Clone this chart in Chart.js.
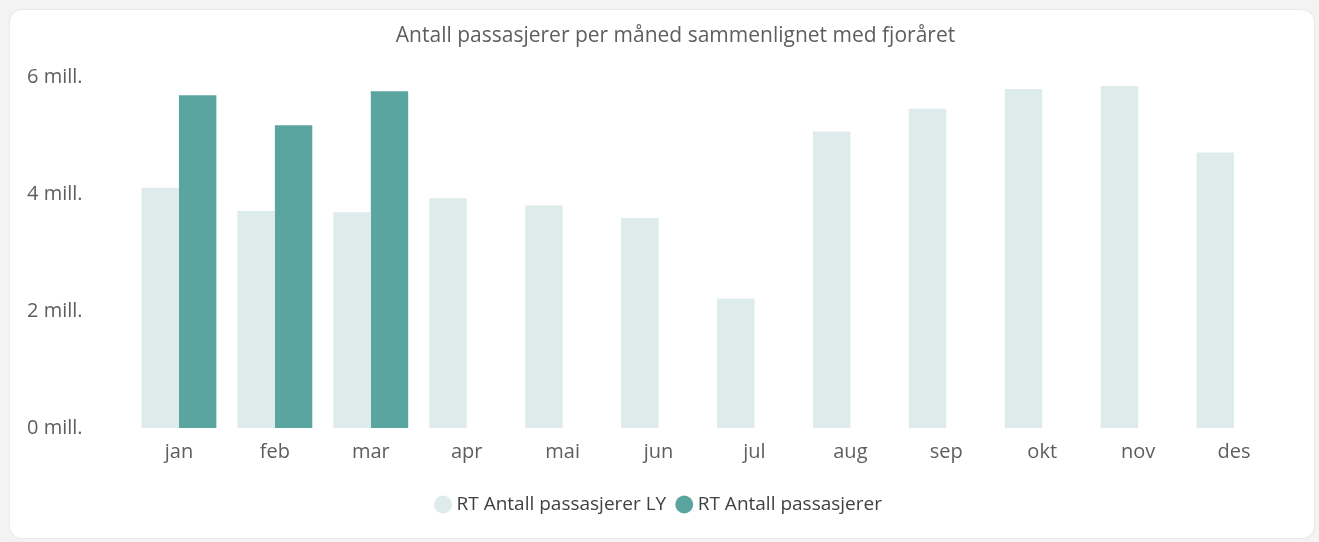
<!DOCTYPE html>
<html>
<head>
<meta charset="utf-8">
<script src="https://cdn.jsdelivr.net/npm/chart.js@4"></script>
<style>
html,body{margin:0;padding:0;background:#f3f3f3;width:1319px;height:542px;overflow:hidden;}
#card{position:absolute;left:10px;top:10px;width:1304px;height:528px;background:#fff;border-radius:12px;box-shadow:0 0 2px rgba(0,0,0,0.12);}
#c{position:absolute;left:0;top:0;}
</style>
</head>
<body>
<div id="card"><canvas id="c" width="1304" height="528"></canvas></div>
<script>
const months = ['jan','feb','mar','apr','mai','jun','jul','aug','sep','okt','nov','des'];
const passengersLY = [4110000,3710000,3690000,3930000,3810000,3590000,2210000,5070000,5460000,5800000,5850000,4710000];
const passengers = [5690000,5180000,5760000,null,null,null,null,null,null,null,null,null];
const yTicks = [0,2000000,4000000,6000000];
const seriesNames = ['RT Antall passasjerer LY','RT Antall passasjerer'];
const titleText = 'Antall passasjerer per måned sammenlignet med fjoråret';

const FONT = "'Open Sans', 'Noto Sans', sans-serif";
const shiftTitle = {
  id: 'shiftTitle',
  afterLayout(chart) {
    const t = chart.titleBlock;
    if (t) { t.left += 21; t.right += 21; }
    const l = chart.legend;
    if (l) { l.left += 6; l.right += 6; }
  }
};
new Chart(document.getElementById('c'), {
  type: 'bar',
  data: {
    labels: months,
    datasets: [
      {label: seriesNames[0], data: passengersLY, backgroundColor: '#ddebea', borderWidth: 0},
      {label: seriesNames[1], data: passengers, backgroundColor: '#5ba5a0', borderWidth: 0}
    ]
  },
  plugins: [shiftTitle],
  options: {
    responsive: false,
    animation: false,
    layout: {padding: {left: 17, right: 32, top: 0, bottom: 14}},
    datasets: {bar: {categoryPercentage: 0.78, barPercentage: 1.0}},
    plugins: {
      title: {display: true, text: titleText, color: '#605e5c', font: {family: FONT, size: 21, weight: 'normal'}, padding: {top: 13, bottom: 29}},
      legend: {
        position: 'bottom',
        labels: {usePointStyle: true, pointStyle: 'circle', boxWidth: 8, boxHeight: 12.7, color: '#404040', font: {family: FONT, size: 19}, padding: 14},
      },
      tooltip: {enabled: false}
    },
    scales: {
      x: {
        grid: {display: false}, border: {display: false},
        afterFit: (s) => { s.height += 13; },
        ticks: {color: '#605e5c', font: {family: FONT, size: 20}, padding: 4}
      },
      y: {
        min: 0, max: 6000000,
        afterBuildTicks: (s) => { s.ticks = yTicks.map(v => ({value: v})); },
        afterFit: (s) => { s.width = 104; },
        grid: {display: false}, border: {display: false},
        ticks: {crossAlign: 'far', color: '#605e5c', font: {family: FONT, size: 20}, callback: (v) => (v/1000000) + ' mill.'}
      }
    }
  }
});
</script>
</body>
</html>
